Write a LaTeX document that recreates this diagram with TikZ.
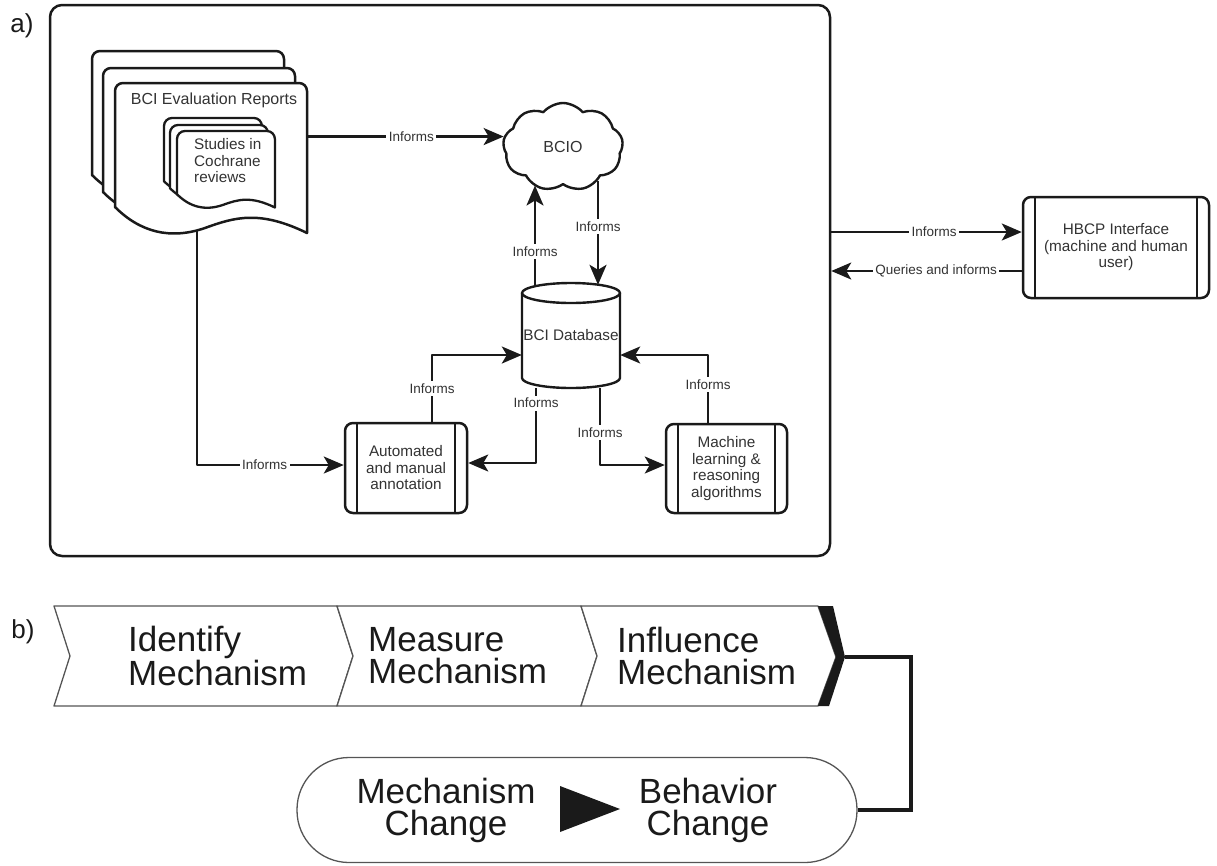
\documentclass[tikz,border=0pt]{standalone}
\usepackage{fontspec}
\setmainfont{Liberation Sans}
\usetikzlibrary{arrows.meta,shapes.symbols,calc}
\definecolor{ink}{HTML}{1A1A1A}
\definecolor{txt}{HTML}{333333}
\definecolor{chev}{HTML}{555555}
\newcommand\boxfont{\fontsize{15.3}{16.5}\selectfont}
\newcommand\labfont{\fontsize{13.5}{15}\selectfont}
\newcommand\bigfont{\fontsize{35}{32}\selectfont}
\tikzset{
  page/.style={draw=ink, fill=white, line width=2.5},
  ipage/.style={draw=ink, fill=white, line width=2.3},
  docpage/.pic={\path[pic actions] (0,124) [rounded corners=8] -- (0,0) -- (192,0) [sharp corners] -- (192,150) .. controls (145,127) and (120,134) .. (90,145) .. controls (55,157) and (25,149) .. (0,124) -- cycle;},
  proc/.style={draw=ink, fill=white, line width=2.5, rounded corners=8, align=center, inner sep=0pt,
    path picture={\draw[ink, line width=2.3] ([xshift=12pt]path picture bounding box.north west) -- ([xshift=12pt]path picture bounding box.south west) ([xshift=-12pt]path picture bounding box.north east) -- ([xshift=-12pt]path picture bounding box.south east);}},
  arr/.style={draw=ink, line width=2.4, -{Stealth[length=20pt,width=17pt,inset=5pt]}},
  lab/.style={fill=white, font=\labfont, inner sep=2.5pt, text=txt},
  chevron/.style={draw=chev, fill=white, line width=1.3},
  bigtext/.style={font=\bigfont, align=left, inner sep=0pt, text=ink}
}
\begin{document}
\begin{tikzpicture}[x=1pt, y=-1pt, line join=round, font=\boxfont, text=txt]
\useasboundingbox (0,0) rectangle (1217,865);

% ---------------- part a ----------------
\node[font=\fontsize{26}{28}\selectfont, text=ink] (la) at (22,26) {a)};
\node[draw=ink, line width=2.5, rounded corners=12, minimum width=780, minimum height=551, inner sep=0] (frame) at (440,280.5) {};

% nodes
\node[minimum width=192, minimum height=150, inner sep=0] (doc) at (211,158) {};
\node[proc, minimum width=122, minimum height=90] (ann) at (406,468) {Automated\\and manual\\annotation};
\node[proc, minimum width=121, minimum height=89] (ml) at (726.5,468.5) {Machine\\learning \&\\reasoning\\algorithms};
\node[proc, minimum width=186, minimum height=101] (hbcp) at (1116,247.5) {HBCP Interface\\(machine and human\\user)};
\node[cloud, draw=ink, fill=white, line width=2.4, cloud puffs=9, cloud puff arc=100, aspect=1.4, minimum width=120, minimum height=88, inner sep=0, font=\fontsize{16}{18}\selectfont] (cloud) at (563,147) {BCIO};

% database cylinder
\draw[ipage, line width=2.4] (522,293) -- (522,378) .. controls (522,383.5) and (544,388) .. (571,388) .. controls (598,388) and (620,383.5) .. (620,378) -- (620,293);
\draw[ink, line width=2.4] (571,293) ellipse [x radius=49, y radius=10];
\node[minimum width=98, minimum height=105, inner sep=0] (db) at (571,335.5) {BCI Database};

% connector from reports to annotation (drawn under the pages)
\draw[arr] ([xshift=-14,yshift=10]doc.south) |- ([yshift=3]ann.west) node[lab, pos=0.73] {Informs};

% document stack
\pic[page] at (92,51) {docpage};
\pic[page] at (103,68) {docpage};
\pic[page] at (115,83) {docpage};
\node[font=\fontsize{16}{18}\selectfont] (docttl) at (214,100) {BCI Evaluation Reports};
\pic[ipage, scale=0.51] at (164,118) {docpage};
\pic[ipage, scale=0.51] at (170,125) {docpage};
\pic[ipage, scale=0.51] at (177,131) {docpage};
\node[align=left, anchor=west, inner sep=0] (studies) at (194,161) {Studies in\\Cochrane\\reviews};

% connectors
\draw[arr] (doc.east |- cloud.170) -- (cloud.170) node[lab, pos=0.53] {Informs};
\path ([xshift=-36]db.north) coordinate (u) ([xshift=27]db.north) coordinate (d);
\draw[arr] ($(u)+(0,4)$) -- (u |- cloud.south) node[lab, pos=0.35] {Informs};
\draw[arr] ($(d |- cloud.south)+(0,-5)$) -- ($(d)+(0,2)$) node[lab, pos=0.44] {Informs};
\draw[arr] ([xshift=26]ann.north) |- ([yshift=-19.5]db.west) node[lab, pos=0.25] {Informs};
\draw[arr] ([xshift=-35]db.south) |- ([yshift=5]ann.east) node[lab, pos=0.1] {Informs};
\draw[arr] ([xshift=29]db.south) |- ([yshift=3.5]ml.west) node[lab, pos=0.29] {Informs};
\draw[arr] ([xshift=-18.5]ml.north) |- ([yshift=-19.5]db.east) node[lab, pos=0.28] {Informs};
\path ([yshift=15.5]hbcp.west) coordinate (h1) ([yshift=-23.5]hbcp.west) coordinate (h2);
\draw[arr] (frame.east |- h1) -- (h1) node[lab, pos=0.54] {Informs};
\draw[arr] (h2) -- (frame.east |- h2) node[lab, pos=0.45] {Queries and informs};

% ---------------- part b ----------------
\node[font=\fontsize{26}{28}\selectfont, text=ink] (lb) at (23,632) {b)};
\draw[chevron] (54,606) -- (337,606) -- (353,656) -- (337,706) -- (54,706) -- (70,656) -- cycle;
\draw[chevron] (337,606) -- (581,606) -- (597,656) -- (581,706) -- (337,706) -- (353,656) -- cycle;
\draw[chevron] (581,606) -- (818,606) -- (836,657) -- (818,706) -- (581,706) -- (597,656) -- cycle;
\fill[ink] (818,606) -- (833,606) -- (845,657) -- (829,706) -- (818,706) -- (836,657) -- cycle;
\node[bigtext, anchor=west] (c1) at (128,656) {Identify\\Mechanism};
\node[bigtext, anchor=west] (c2) at (368,656) {Measure\\Mechanism};
\node[bigtext, anchor=west] (c3) at (617,656) {Influence\\Mechanism};
\coordinate (tip) at (845,657);

\node[draw=chev, line width=1.3, rounded corners=52, minimum width=560, minimum height=105, inner sep=0] (pill) at (577,810) {};
\node[bigtext, align=center] (mc) at (446,810) {Mechanism\\Change};
\fill[ink] (560,786) -- (620,809) -- (560,832) -- cycle;
\node[bigtext, align=center] (bc) at (708,810) {Behavior\\Change};
\draw[ink, line width=4, line join=miter] (tip) -- ++(66,0) |- (pill.east);
\end{tikzpicture}
\end{document}
